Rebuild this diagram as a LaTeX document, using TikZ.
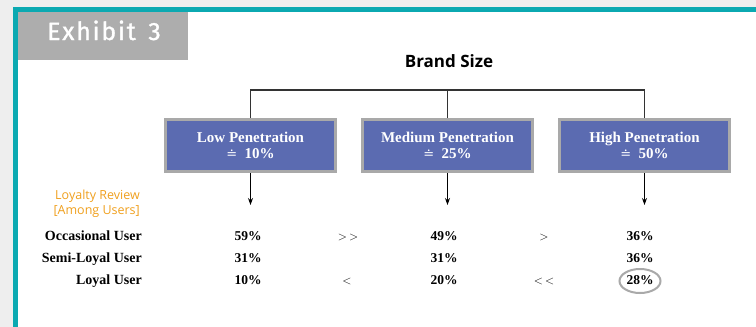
\documentclass[tikz,border=0pt]{standalone}
\usepackage{fontspec}
\setmainfont{Liberation Serif}
\newfontfamily\headfont{Open Sans}
\newfontfamily\tabfont[LetterSpace=7,FakeBold=1.2]{Fira Sans}
\newfontfamily\symfont{DejaVu Serif}
\usetikzlibrary{arrows.meta,shapes.geometric}

\definecolor{pagegrey}{HTML}{EEEEEE}
\definecolor{frameteal}{HTML}{0BA9B1}
\definecolor{tabgrey}{HTML}{ADADAD}
\definecolor{boxblue}{HTML}{5B6BB1}
\definecolor{boxedge}{HTML}{A9A9A9}
\definecolor{reviewgold}{HTML}{F0A01E}
\definecolor{linegrey}{HTML}{333333}

\tikzset{
  sizebox/.style={draw=boxedge, line width=3pt, fill=boxblue, text=white,
    minimum width=170pt, minimum height=52pt, align=center, inner sep=0pt,
    font=\fontsize{15}{15.5}\selectfont\bfseries},
  treeline/.style={draw=linegrey, line width=1.1pt},
  downarrow/.style={draw=black, line width=0.9pt, -{Stealth[length=7pt,width=5pt]}},
  rowlabel/.style={anchor=base east, inner sep=0pt, font=\fontsize{14}{15}\selectfont\bfseries},
  value/.style={anchor=base, inner sep=0pt, font=\fontsize{13.5}{15}\selectfont\bfseries},
  compare/.style={anchor=base, inner sep=0pt, font=\fontsize{13}{15}\selectfont},
  review/.style={anchor=base east, inner sep=0pt, text=reviewgold, font=\headfont\fontsize{12.5}{14}\selectfont},
}

\newcommand{\approxpct}[1]{{\symfont\mdseries\fontsize{13}{15}\selectfont ≐}\ \ #1\%}

\begin{document}
\begin{tikzpicture}[x=1pt,y=-1pt]
  % page and frame
  \fill[pagegrey] (0,0) rectangle (756,327);
  \fill[frameteal] (13,7) rectangle (756,327);
  \fill[white] (18,12) rectangle (756,327);
  \useasboundingbox (0,0) rectangle (756,327);

  % exhibit tab
  \fill[tabgrey] (18,12) rectangle (188,60);
  \node[anchor=base, inner sep=0pt, text=white, font=\tabfont\fontsize{25}{27}\selectfont] (exhibit) at (104,40) {Exhibit\ \,3};

  % heading
  \node[anchor=base, inner sep=0pt, font=\headfont\fontsize{17}{19}\selectfont\bfseries] (brand) at (449,67) {Brand Size};

  % brand-size boxes
  \node[sizebox] (low)  at (250.5,145.5) {Low Penetration\\\approxpct{10}};
  \node[sizebox] (mid)  at (447.5,145.5) {Medium Penetration\\\approxpct{25}};
  \node[sizebox] (high) at (644.5,145.5) {High Penetration\\\approxpct{50}};

  % tree connecting the boxes
  \coordinate (lowtop)  at (250.5,90);
  \coordinate (midtop)  at (447.5,90);
  \coordinate (hightop) at (644.5,90);
  \draw[treeline] (low.north) -- (lowtop) -- (hightop) -- (high.north);
  \draw[treeline] (mid.north) -- (midtop);

  % arrows down to the figures
  \coordinate (lowend)  at (250.5,205);
  \coordinate (midend)  at (447.5,205);
  \coordinate (highend) at (644.5,205);
  \draw[downarrow] (low.south) -- (lowend);
  \draw[downarrow] (mid.south) -- (midend);
  \draw[downarrow] (high.south) -- (highend);

  % loyalty review caption
  \node[review] (rev1) at (140,199) {Loyalty Review};
  \node[review] (rev2) at (140,214.5) {[Among Users]};

  % row labels
  \node[rowlabel] (occ)  at (142,240) {Occasional User};
  \node[rowlabel] (semi) at (142,262) {Semi-Loyal User};
  \node[rowlabel] (loy)  at (142,284) {Loyal User};

  % figures
  \node[value] (o1) at (248,240) {59\%};
  \node[value] (o2) at (444,240) {49\%};
  \node[value] (o3) at (640,240) {36\%};
  \node[value] (s1) at (248,262) {31\%};
  \node[value] (s2) at (444,262) {31\%};
  \node[value] (s3) at (640,262) {36\%};
  \node[value] (l1) at (248,284) {10\%};
  \node[value] (l2) at (444,284) {20\%};
  \node[value] (l3) at (640,284) {28\%};
  \draw[draw=boxedge, line width=2pt] (640,281) ellipse [x radius=20.5pt, y radius=12pt];

  % comparisons
  \node[compare] (c1) at (348,240) {$>$\,$>$};
  \node[compare] (c2) at (544,240) {$>$};
  \node[compare] (c3) at (347,284) {$<$};
  \node[compare] (c4) at (544,284) {$<$\,$<$};
\end{tikzpicture}
\end{document}
